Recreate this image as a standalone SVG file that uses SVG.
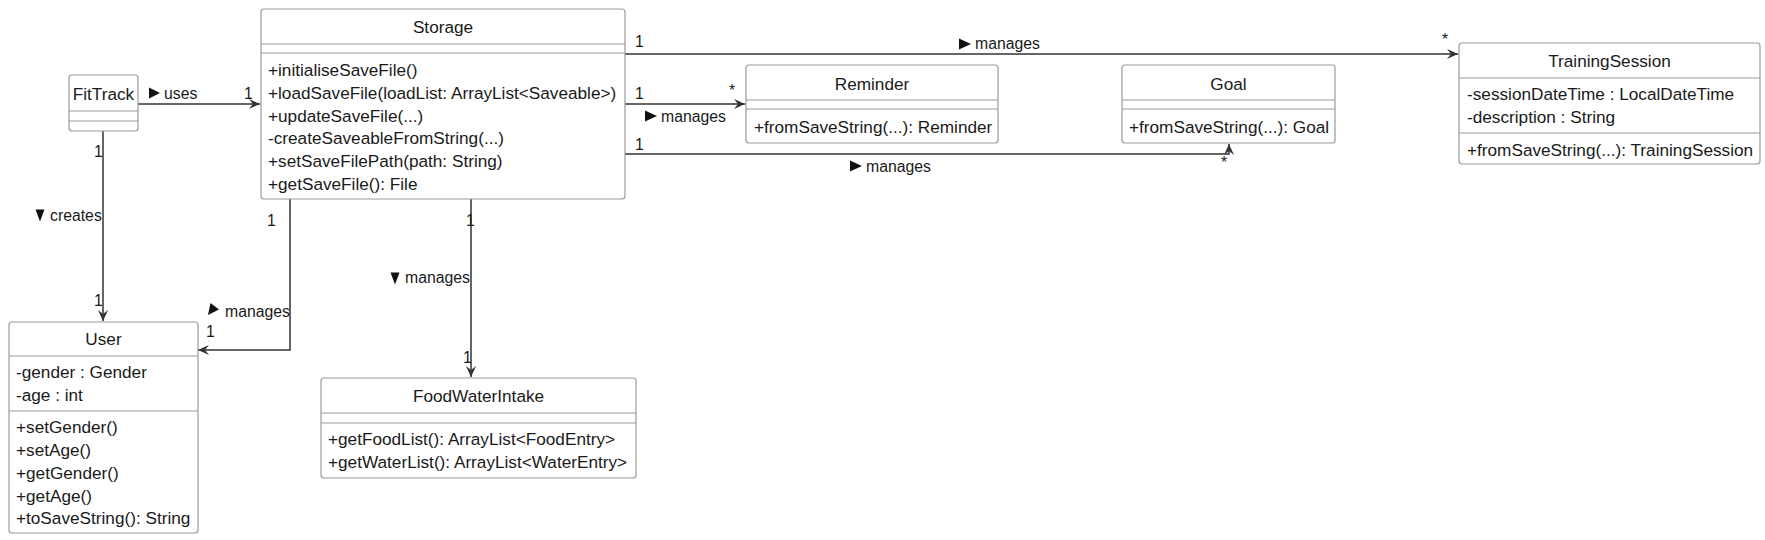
<svg xmlns="http://www.w3.org/2000/svg" width="1765" height="540" viewBox="0 0 1765 540">
<style>
.box{fill:#fff;stroke:#9a9a9a;stroke-width:1.2}
.sep{stroke:#9a9a9a;stroke-width:1.2}
.t{font-family:"Liberation Sans",Arial,sans-serif;font-size:17.2px;fill:#1a1a1a}
.c{text-anchor:middle}
.lb{font-family:"Liberation Sans",Arial,sans-serif;font-size:15.8px;fill:#1a1a1a}
.ln{fill:none;stroke:#333;stroke-width:1.5}
.tri{fill:#111}
</style>
<defs>
<marker id="arr" markerUnits="userSpaceOnUse" markerWidth="14" markerHeight="12" refX="12" refY="6" orient="auto">
<path d="M12,6 L1,1 L5,6 L1,11 Z" fill="#333"/>
</marker>
</defs>
<rect width="1765" height="540" fill="#fff"/>

<g id="connectors">
<g id="e-uses">
<path class="ln" d="M138,104 L260,104" marker-end="url(#arr)"/>
<polygon class="tri" points="149,87.5 160,93 149,98.5"/>
<text class="lb" x="164" y="99">uses</text>
<text class="lb" x="244" y="99">1</text>
</g>
<g id="e-creates">
<path class="ln" d="M103,131 L103,321" marker-end="url(#arr)"/>
<polygon class="tri" points="35.5,209.5 44.5,209.5 40,221.5"/>
<text class="lb" x="50" y="221">creates</text>
<text class="lb" x="94" y="157">1</text>
<text class="lb" x="94" y="306">1</text>
</g>
<g id="e-user">
<path class="ln" d="M290,199 L290,350 L198,350" marker-end="url(#arr)"/>
<polygon class="tri" points="210.5,303 219,309.5 208,315"/>
<text class="lb" x="225" y="317">manages</text>
<text class="lb" x="267" y="226">1</text>
<text class="lb" x="206" y="337">1</text>
</g>
<g id="e-food">
<path class="ln" d="M471,199 L471,377" marker-end="url(#arr)"/>
<polygon class="tri" points="390.5,272.5 399.5,272.5 395,284.5"/>
<text class="lb" x="405" y="283">manages</text>
<text class="lb" x="466" y="226">1</text>
<text class="lb" x="463" y="363">1</text>
</g>
<g id="e-training">
<path class="ln" d="M625,54 L1458,54" marker-end="url(#arr)"/>
<polygon class="tri" points="959,38.5 971,44 959,49.5"/>
<text class="lb" x="975" y="49">manages</text>
<text class="lb" x="635" y="47">1</text>
<text class="lb" x="1442" y="45">*</text>
</g>
<g id="e-reminder">
<path class="ln" d="M625,104 L745,104" marker-end="url(#arr)"/>
<polygon class="tri" points="645,110.5 657,116 645,121.5"/>
<text class="lb" x="661" y="122">manages</text>
<text class="lb" x="635" y="99">1</text>
<text class="lb" x="729" y="96">*</text>
</g>
<g id="e-goal">
<path class="ln" d="M625,154 L1229,154 L1229,144" marker-end="url(#arr)"/>
<polygon class="tri" points="850,160.5 862,166 850,171.5"/>
<text class="lb" x="866" y="172">manages</text>
<text class="lb" x="635" y="150">1</text>
<text class="lb" x="1221" y="168">*</text>
</g>
</g>

<g id="FitTrack">
<rect class="box" x="69" y="75" width="69" height="56" rx="3"/>
<text class="t c" x="103.5" y="100">FitTrack</text>
<line class="sep" x1="69" y1="111" x2="138" y2="111"/>
<line class="sep" x1="69" y1="121" x2="138" y2="121"/>
</g>

<g id="Storage">
<rect class="box" x="261" y="9" width="364" height="190" rx="3"/>
<text class="t c" x="443" y="33">Storage</text>
<line class="sep" x1="261" y1="44" x2="625" y2="44"/>
<line class="sep" x1="261" y1="53" x2="625" y2="53"/>
<text class="t" x="268" y="76">+initialiseSaveFile()</text>
<text class="t" x="268" y="99">+loadSaveFile(loadList: ArrayList&lt;Saveable&gt;)</text>
<text class="t" x="268" y="122">+updateSaveFile(...)</text>
<text class="t" x="268" y="144">-createSaveableFromString(...)</text>
<text class="t" x="268" y="167">+setSaveFilePath(path: String)</text>
<text class="t" x="268" y="190">+getSaveFile(): File</text>
</g>

<g id="Reminder">
<rect class="box" x="746" y="65" width="252" height="78" rx="3"/>
<text class="t c" x="872" y="90">Reminder</text>
<line class="sep" x1="746" y1="100" x2="998" y2="100"/>
<line class="sep" x1="746" y1="109" x2="998" y2="109"/>
<text class="t" x="754" y="133">+fromSaveString(...): Reminder</text>
</g>

<g id="Goal">
<rect class="box" x="1122" y="65" width="213" height="78" rx="3"/>
<text class="t c" x="1228.5" y="90">Goal</text>
<line class="sep" x1="1122" y1="100" x2="1335" y2="100"/>
<line class="sep" x1="1122" y1="109" x2="1335" y2="109"/>
<text class="t" x="1129" y="133">+fromSaveString(...): Goal</text>
</g>

<g id="TrainingSession">
<rect class="box" x="1459" y="43" width="301" height="121" rx="3"/>
<text class="t c" x="1609.5" y="67">TrainingSession</text>
<line class="sep" x1="1459" y1="78" x2="1760" y2="78"/>
<text class="t" x="1467" y="100">-sessionDateTime : LocalDateTime</text>
<text class="t" x="1467" y="123">-description : String</text>
<line class="sep" x1="1459" y1="133" x2="1760" y2="133"/>
<text class="t" x="1467" y="156">+fromSaveString(...): TrainingSession</text>
</g>

<g id="User">
<rect class="box" x="9" y="322" width="189" height="211" rx="3"/>
<text class="t c" x="103.5" y="345">User</text>
<line class="sep" x1="9" y1="356" x2="198" y2="356"/>
<text class="t" x="16" y="378">-gender : Gender</text>
<text class="t" x="16" y="401">-age : int</text>
<line class="sep" x1="9" y1="411" x2="198" y2="411"/>
<text class="t" x="16" y="433">+setGender()</text>
<text class="t" x="16" y="456">+setAge()</text>
<text class="t" x="16" y="479">+getGender()</text>
<text class="t" x="16" y="502">+getAge()</text>
<text class="t" x="16" y="524">+toSaveString(): String</text>
</g>

<g id="FoodWaterIntake">
<rect class="box" x="321" y="378" width="315" height="100" rx="3"/>
<text class="t c" x="478.5" y="402">FoodWaterIntake</text>
<line class="sep" x1="321" y1="413" x2="636" y2="413"/>
<line class="sep" x1="321" y1="423" x2="636" y2="423"/>
<text class="t" x="328" y="445">+getFoodList(): ArrayList&lt;FoodEntry&gt;</text>
<text class="t" x="328" y="468">+getWaterList(): ArrayList&lt;WaterEntry&gt;</text>
</g>
</svg>
